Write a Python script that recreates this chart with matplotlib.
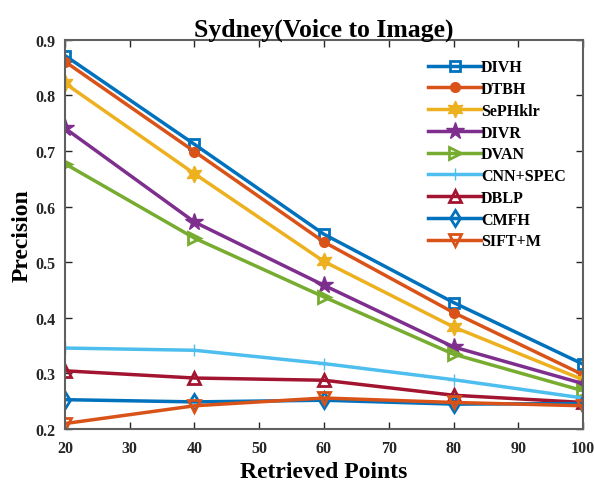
import matplotlib
matplotlib.use("Agg")
import matplotlib.pyplot as plt

x = [20, 40, 60, 80, 100]
names = ["DIVH", "DTBH", "SePHklr", "DIVR", "DVAN", "CNN+SPEC", "DBLP", "CMFH", "SIFT+M"]
divh = [0.872, 0.712, 0.550, 0.427, 0.316]
dtbh = [0.861, 0.699, 0.536, 0.409, 0.297]
sephklr = [0.822, 0.659, 0.501, 0.383, 0.288]
divr = [0.741, 0.572, 0.458, 0.347, 0.281]
dvan = [0.677, 0.543, 0.437, 0.334, 0.268]
cnnspec = [0.345, 0.341, 0.317, 0.288, 0.255]
dblp = [0.304, 0.291, 0.287, 0.260, 0.247]
cmfh = [0.252, 0.248, 0.251, 0.244, 0.245]
siftm = [0.209, 0.241, 0.255, 0.247, 0.241]
series = [divh, dtbh, sephklr, divr, dvan, cnnspec, dblp, cmfh, siftm]

colors = ["#0072BD", "#D95319", "#EDB120", "#7E2F8E", "#77AC30",
          "#4DBEEE", "#A2142F", "#0072BD", "#D95319"]
markers = ["s", "o", (6, 1, 0), "*", ">", "+", "^", "d", "v"]
filled = [False, True, True, True, False, True, False, False, False]
msizes = [7, 7, 12, 13, 8, 8, 8, 8, 8]

plt.rcParams['font.family'] = ['Liberation Serif']
plt.rcParams['font.weight'] = 'bold'

fig = plt.figure(figsize=(5.94, 4.89), dpi=100)
ax = fig.add_axes([0.1094, 0.1216, 0.8721, 0.7946])

for name, ys, c, m, f, ms in zip(names, series, colors, markers, filled, msizes):
    ax.plot(x, ys, color=c, lw=2.5, marker=m, markersize=ms,
            markerfacecolor=(c if f else 'none'), markeredgecolor=c,
            markeredgewidth=2 if not f else 1, label=name)

ax.set_xlim(20, 100)
ax.set_ylim(0.2, 0.9)
ax.set_xticks([20, 30, 40, 50, 60, 70, 80, 90, 100])
ax.set_yticks([0.2, 0.3, 0.4, 0.5, 0.6, 0.7, 0.8, 0.9])
ax.set_yticklabels(["0.2", "0.3", "0.4", "0.5", "0.6", "0.7", "0.8", "0.9"])
ax.tick_params(direction='in', top=True, right=True, length=5, width=1,
               labelsize=11.5, colors='#262626')
ax.tick_params(axis='x', pad=8)
ax.tick_params(axis='y', pad=7)
for lab in ax.get_xticklabels() + ax.get_yticklabels():
    lab.set_fontweight('bold')
for sp in ax.spines.values():
    sp.set_color('#606060')
    sp.set_linewidth(1.5)

ax.set_title("Sydney(Voice to Image)", fontsize=18.5, fontweight='bold', pad=3)
ax.set_xlabel("Retrieved Points", fontsize=17, fontweight='bold', labelpad=4)
ax.set_ylabel("Precision", fontsize=17, fontweight='bold', labelpad=2)

leg = ax.legend(loc='upper right', bbox_to_anchor=(0.985, 0.975), frameon=False,
                fontsize=11.5, handlelength=3.3, labelspacing=0.36,
                handletextpad=0.0, borderaxespad=0.2)
for t in leg.get_texts():
    t.set_fontweight('bold')

fig.savefig("out.png", dpi=100)
